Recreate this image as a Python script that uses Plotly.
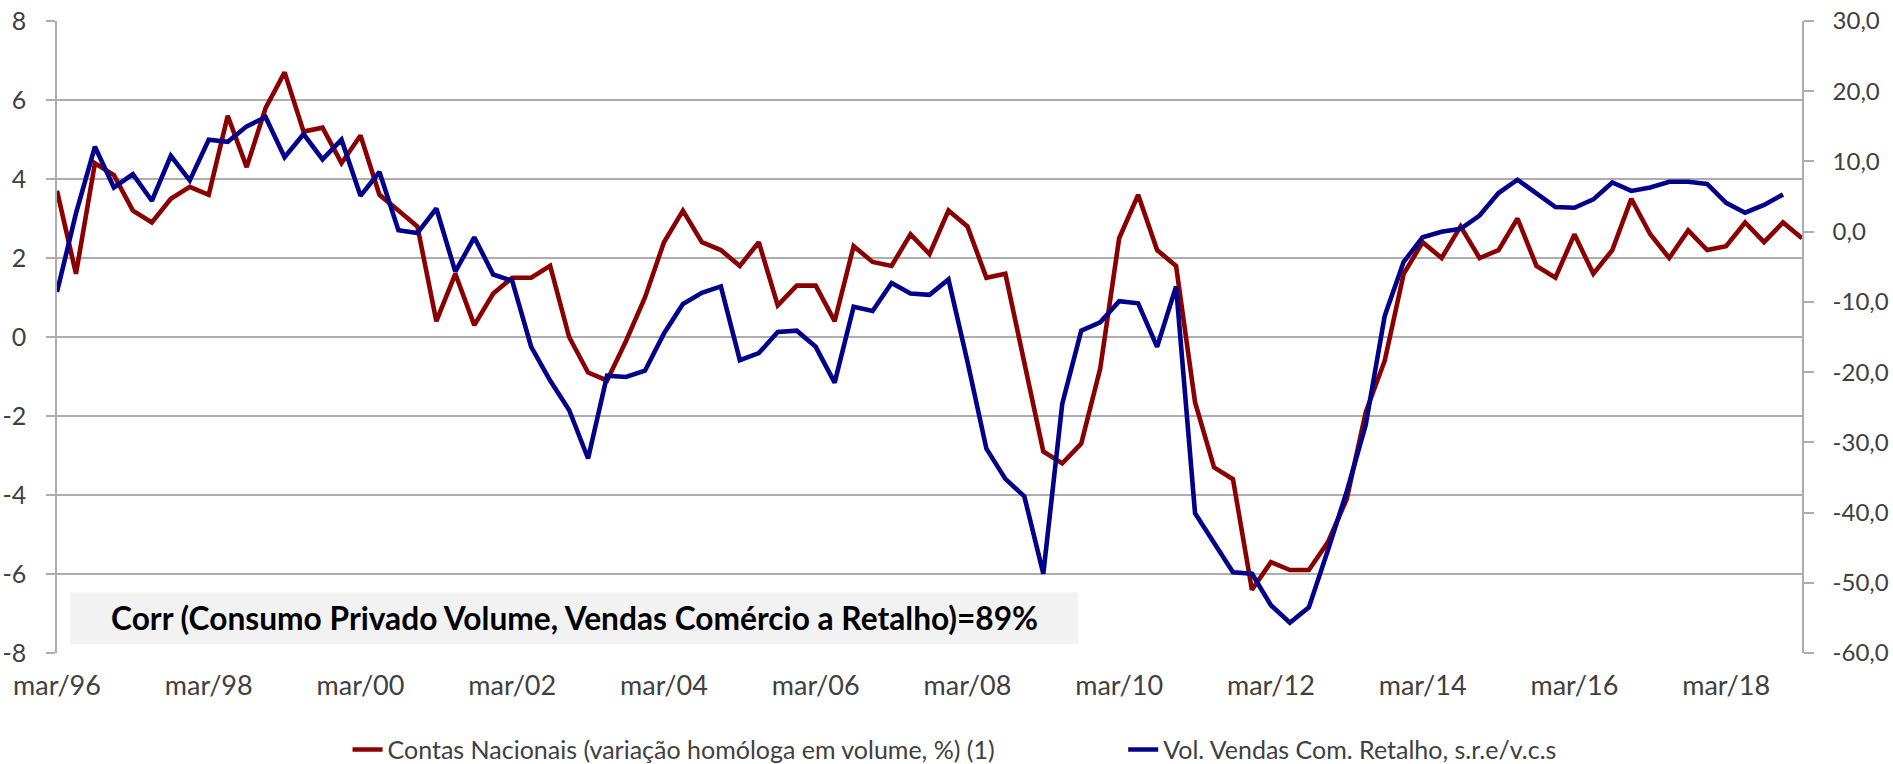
import plotly.graph_objects as go

# ---- data ----
months = ["mar", "jun", "set", "dez"]
quarters = [f"{m}/{y % 100:02d}" for y in range(1996, 2020) for m in months][:93]

contas_nacionais = [
    3.7, 1.6, 4.4, 4.1, 3.2, 2.9, 3.5, 3.8, 3.6, 5.6, 4.3, 5.8, 6.7, 5.2, 5.3, 4.4,
    5.1, 3.6, 3.2, 2.8, 0.4, 1.6, 0.3, 1.1, 1.5, 1.5, 1.8, 0.0, -0.9, -1.1, -0.1, 1.0,
    2.4, 3.2, 2.4, 2.2, 1.8, 2.4, 0.8, 1.3, 1.3, 0.4, 2.3, 1.9, 1.8, 2.6, 2.1, 3.2,
    2.8, 1.5, 1.6, -0.6, -2.9, -3.2, -2.7, -0.8, 2.5, 3.6, 2.2, 1.8, -1.65, -3.3,
    -3.6, -6.4, -5.7, -5.9, -5.9, -5.2, -4.1, -1.9, -0.6, 1.6, 2.4, 2.0, 2.8, 2.0,
    2.2, 3.0, 1.8, 1.5, 2.6, 1.6, 2.2, 3.5, 2.6, 2.0, 2.7, 2.2, 2.3, 2.9, 2.4, 2.9, 2.5,
]

vendas_retalho = [
    -8.6, 2.6, 12.1, 6.3, 8.2, 4.4, 10.8, 7.3, 13.1, 12.8, 15.0, 16.3, 10.6, 13.9, 10.3, 13.1,
    5.1, 8.5, 0.2, -0.2, 3.3, -5.7, -0.8, -6.1, -7.0, -16.4, -21.2, -25.4, -32.3, -20.5, -20.7, -19.8,
    -14.5, -10.3, -8.7, -7.8, -18.3, -17.3, -14.3, -14.1, -16.4, -21.5, -10.7, -11.3, -7.3, -8.8, -9.0, -6.8,
    -18.5, -30.9, -35.2, -37.7, -48.7, -24.5, -14.1, -12.9, -9.9, -10.2, -16.4, -7.8, -40.1, -44.4,
    -48.5, -48.7, -53.2, -55.7, -53.5, -45.4, -37.0, -27.5, -12.0, -4.3, -0.8, 0.0, 0.4, 2.3,
    5.5, 7.4, 5.4, 3.5, 3.4, 4.6, 7.0, 5.8, 6.3, 7.1, 7.1, 6.8, 4.1, 2.7, 3.8, 5.3,
]

tick_labels = quarters[::8][:12]
left_ticks = [-8, -6, -4, -2, 0, 2, 4, 6, 8]
right_ticks = [-60, -50, -40, -30, -20, -10, 0, 10, 20, 30]
left_text = [str(v) for v in left_ticks]
right_text = [f"{v:.1f}".replace(".", ",") for v in right_ticks]

name_red = "Contas Nacionais (variação homóloga em volume, %) (1)"
name_blue = "Vol. Vendas Com. Retalho, s.r.e/v.c.s"
corr_text = "Corr (Consumo Privado Volume, Vendas Comércio a Retalho)=89%"

RED = "#8a0000"
BLUE = "#00008a"
GRID = "#adadad"
TXT = "#404040"
FONT = "Lato"

fig = go.Figure()
fig.add_trace(go.Scatter(
    x=quarters[:len(contas_nacionais)], y=contas_nacionais, name=name_red,
    mode="lines", line=dict(color=RED, width=4.6), yaxis="y", legend="legend",
))
fig.add_trace(go.Scatter(
    x=quarters[:len(vendas_retalho)], y=vendas_retalho, name=name_blue,
    mode="lines", line=dict(color=BLUE, width=4.6), yaxis="y2", legend="legend2",
))

fig.add_shape(type="rect", xref="paper", yref="y", x0=0.0075, x1=0.585, y0=-7.78, y1=-6.46,
              fillcolor="#f2f2f2", line=dict(width=0), layer="below")
fig.add_annotation(xref="paper", yref="y", x=0.2965, y=-7.12, xanchor="center", yanchor="middle",
                   text=corr_text, showarrow=False,
                   font=dict(family=FONT, size=31.7, color="#000000", weight="bold"))

fig.update_layout(
    width=1893, height=764,
    margin=dict(l=57, r=91, t=21, b=111, autoexpand=False),
    paper_bgcolor="white", plot_bgcolor="white",
    font=dict(family=FONT, size=24, color=TXT),
    xaxis=dict(
        type="category", categoryorder="array", categoryarray=quarters, automargin=False,
        range=[0, len(quarters) - 1], tickmode="array", tickvals=tick_labels, ticktext=tick_labels,
        showgrid=False, showline=False, zeroline=False, ticks="", ticklabelstandoff=14,
        tickfont=dict(family=FONT, size=27, color=TXT),
    ),
    xaxis2=dict(
        type="category", categoryorder="array", categoryarray=quarters, overlaying="x",
        anchor="free", position=0.5, side="bottom", automargin=False,
        range=[0, len(quarters) - 1], tickmode="array", tickvals=tick_labels,
        showticklabels=False, showgrid=False, showline=True, linecolor=GRID, linewidth=1.5,
        ticks="outside", ticklen=9, tickcolor=GRID, tickwidth=1.5, zeroline=False,
    ),
    yaxis=dict(
        range=[-8, 8], tickmode="array", tickvals=left_ticks, ticktext=left_text, automargin=False,
        showgrid=True, gridcolor=GRID, gridwidth=1.5, zeroline=False,
        showline=True, linecolor=GRID, linewidth=1.5,
        ticks="outside", ticklen=9, tickcolor=GRID, tickwidth=1.5, ticklabelstandoff=15,
        tickfont=dict(family=FONT, size=25, color=TXT),
    ),
    yaxis2=dict(
        range=[-60, 30], tickmode="array", tickvals=right_ticks, ticktext=right_text,
        overlaying="y", side="right", showgrid=False, zeroline=False, automargin=False,
        showline=True, linecolor=GRID, linewidth=1.5,
        ticks="outside", ticklen=10, tickcolor=GRID, tickwidth=1.5, ticklabelstandoff=14,
        tickfont=dict(family=FONT, size=24, color=TXT),
    ),
    legend=dict(orientation="h", x=0.1665, xanchor="left", y=-0.153, yanchor="middle",
                font=dict(family=FONT, size=25, color=TXT), bgcolor="rgba(0,0,0,0)"),
    legend2=dict(orientation="h", x=0.611, xanchor="left", y=-0.153, yanchor="middle",
                 font=dict(family=FONT, size=25, color=TXT), bgcolor="rgba(0,0,0,0)"),
    showlegend=True,
)

fig.write_html(
    "out.html",
    config={"displayModeBar": False},
    post_script="document.body.style.margin='0';document.body.style.overflow='hidden';",
)
